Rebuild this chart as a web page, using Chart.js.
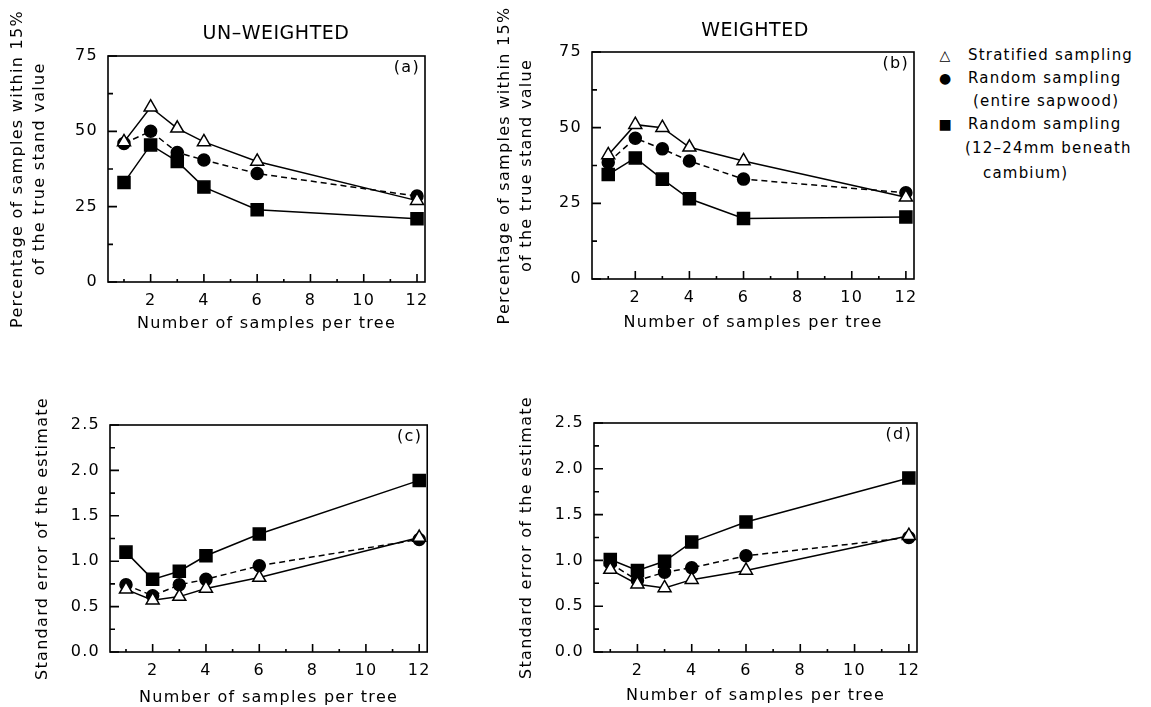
<!DOCTYPE html>
<html><head><meta charset="utf-8">
<script src="https://cdn.jsdelivr.net/npm/chart.js@4.4.1/dist/chart.umd.min.js"></script>
<style>
body{margin:0;background:#fff;width:1151px;height:707px;overflow:hidden;position:relative;font-family:"DejaVu Sans",sans-serif;color:#000}
.p{position:absolute}
.hdr{position:absolute;font-size:19px;letter-spacing:0.5px;transform:translate(-50%,-50%);white-space:nowrap}
.lg{position:absolute;font-size:15px;letter-spacing:1.2px;white-space:nowrap;line-height:20px;transform:translateY(-50%)}
.sym{position:absolute;font-size:14px;line-height:20px;transform:translate(-50%,-50%)}
</style></head><body>
<div class="p" id="pa" style="left:0;top:0;width:440px;height:340px"><canvas id="ca"></canvas></div>
<div class="p" id="pb" style="left:490px;top:0;width:440px;height:340px"><canvas id="cb"></canvas></div>
<div class="p" id="pc" style="left:0;top:360px;width:440px;height:347px"><canvas id="cc"></canvas></div>
<div class="p" id="pd" style="left:490px;top:360px;width:440px;height:347px"><canvas id="cd"></canvas></div>
<div class="hdr" style="left:276px;top:32px">UN–WEIGHTED</div>
<div class="hdr" style="left:755px;top:29px">WEIGHTED</div>
<div class="sym" style="left:945px;top:55px">△</div>
<div class="lg" style="left:968px;top:55px">Stratified sampling</div>
<div class="sym" style="left:945px;top:78px">●</div>
<div class="lg" style="left:968px;top:78px">Random sampling</div>
<div class="lg" style="left:973px;top:101px">(entire sapwood)</div>
<div class="sym" style="left:945px;top:124px">■</div>
<div class="lg" style="left:968px;top:124px">Random sampling</div>
<div class="lg" style="left:965px;top:148px">(12–24mm beneath</div>
<div class="lg" style="left:983px;top:173px">cambium)</div>
<script>
// ---- data ----
const samplesPerTree = [1, 2, 3, 4, 6, 12];
const seriesNames = ['Stratified sampling', 'Random sampling (entire sapwood)', 'Random sampling (12–24mm beneath cambium)'];

const unweightedPctStratified = [46.5, 58, 51, 46.5, 40, 27];
const unweightedPctRandomEntire = [46, 50, 43, 40.5, 36, 28.5];
const unweightedPctRandom1224 = [33, 45.5, 40, 31.5, 24, 21];

const weightedPctStratified = [41, 51, 50, 43.5, 39, 27];
const weightedPctRandomEntire = [38.5, 46.5, 43, 39, 33, 28.5];
const weightedPctRandom1224 = [34.5, 40, 33, 26.5, 20, 20.5];

const unweightedSeStratified = [0.69, 0.57, 0.61, 0.70, 0.82, 1.26];
const unweightedSeRandomEntire = [0.74, 0.62, 0.74, 0.80, 0.95, 1.24];
const unweightedSeRandom1224 = [1.10, 0.80, 0.89, 1.06, 1.30, 1.89];

const weightedSeStratified = [0.90, 0.74, 0.70, 0.79, 0.89, 1.27];
const weightedSeRandomEntire = [0.97, 0.78, 0.87, 0.92, 1.05, 1.25];
const weightedSeRandom1224 = [1.01, 0.89, 0.99, 1.20, 1.42, 1.90];

const xMajorTicks = [2, 4, 6, 8, 10, 12];
const xMinorTicks = [1, 3, 5, 7, 9, 11];
const pctMajorTicks = [0, 25, 50, 75];
const pctMinorTicks = [12.5, 37.5, 62.5];
const seMajorTicks = [0, 0.5, 1.0, 1.5, 2.0, 2.5];
const seMinorTicks = [0.25, 0.75, 1.25, 1.75, 2.25];

const xTitle = 'Number of samples per tree';
const pctTitle = ['Percentage of samples within 15%', 'of the true stand value'];
const seTitle = 'Standard error of the estimate';

// ---- drawing ----
const FONT = '"DejaVu Sans", sans-serif';
Chart.defaults.font.family = FONT;
Chart.defaults.color = '#000';

const SPACING = '1.3px';
const spacingPlugin = {
  id: 'spacing',
  beforeUpdate(c) { c.ctx.letterSpacing = SPACING; },
  beforeLayout(c) { c.ctx.letterSpacing = SPACING; },
  beforeDraw(c) { c.ctx.letterSpacing = SPACING; }
};

const framePlugin = {
  id: 'frame',
  afterDraw(chart, args, o) {
    const {ctx, chartArea: a, scales: {x, y}} = chart;
    ctx.save();
    ctx.strokeStyle = '#000';
    ctx.lineWidth = 1.6;
    ctx.strokeRect(a.left, a.top, a.right - a.left, a.bottom - a.top);
    ctx.beginPath();
    o.xMajor.forEach(v => { const px = x.getPixelForValue(v); ctx.moveTo(px, a.bottom); ctx.lineTo(px, a.bottom - 8); });
    o.xMinor.forEach(v => { const px = x.getPixelForValue(v); ctx.moveTo(px, a.bottom); ctx.lineTo(px, a.bottom - 3); });
    o.yMajor.forEach(v => { const py = y.getPixelForValue(v); ctx.moveTo(a.left, py); ctx.lineTo(a.left + 9, py); });
    o.yMinor.forEach(v => { const py = y.getPixelForValue(v); ctx.moveTo(a.left, py); ctx.lineTo(a.left + 5, py); });
    ctx.stroke();
    ctx.font = '16px ' + FONT;
    ctx.fillStyle = '#000';
    ctx.textAlign = 'right';
    ctx.textBaseline = 'middle';
    ctx.fillText(o.tag, a.right - 5, a.top + 12);
    ctx.restore();
  }
};

function ds(name, vals, style, dashed) {
  const open = style === 'triangle';
  return {
    label: name,
    data: samplesPerTree.map((v, i) => ({x: v, y: vals[i]})),
    borderColor: '#000', borderWidth: 1.5,
    borderDash: dashed ? [6, 4] : [],
    pointStyle: style,
    pointRadius: style === 'triangle' ? 7.5 : (style === 'rect' ? 8.5 : 6),
    pointBackgroundColor: open ? '#fff' : '#000',
    pointBorderColor: '#000', pointBorderWidth: 1.5,
    tension: 0, clip: false
  };
}

function panel(id, series, g) {
  new Chart(document.getElementById(id), {
    type: 'line',
    data: {datasets: [
      ds(seriesNames[0], series[0], 'triangle', false),
      ds(seriesNames[1], series[1], 'circle', true),
      ds(seriesNames[2], series[2], 'rect', false)
    ]},
    options: {
      responsive: true, maintainAspectRatio: false, animation: false,
      layout: {padding: {top: g.top, right: g.right, left: 0, bottom: 0}},
      plugins: {legend: {display: false}, tooltip: {enabled: false},
        frame: {xMajor: xMajorTicks, xMinor: xMinorTicks, yMajor: g.yMajor, yMinor: g.yMinor, tag: g.tag}},
      scales: {
        x: {
          type: 'linear', min: 0.4, max: 12.3,
          afterBuildTicks: s => { s.ticks = xMajorTicks.map(v => ({value: v})); },
          afterFit: s => { s.height = g.xh; },
          grid: {display: false, drawTicks: false}, border: {display: false},
          ticks: {padding: g.xtp, font: {size: 16}, color: '#000', maxRotation: 0, autoSkip: false},
          title: {display: true, text: xTitle, font: {size: 16}, color: '#000', padding: {top: 0, bottom: g.xtb}}
        },
        y: {
          type: 'linear', min: g.yMin, max: g.yMax,
          afterBuildTicks: s => { s.ticks = g.yMajor.map(v => ({value: v})); },
          afterFit: s => { s.width = g.yw; },
          grid: {display: false, drawTicks: false}, border: {display: false},
          ticks: {padding: 10, font: {size: 16}, color: '#000', autoSkip: false, callback: g.fmt},
          title: {display: true, text: g.yTitle, font: {size: 16, lineHeight: 1.35}, color: '#000', padding: {top: g.ytp, bottom: 0}}
        }
      }
    },
    plugins: [spacingPlugin, framePlugin]
  });
}

const pctFmt = v => String(v);
const seFmt = v => Number(v).toFixed(1);

panel('ca', [unweightedPctStratified, unweightedPctRandomEntire, unweightedPctRandom1224],
  {top: 56, right: 15, yw: 108, xh: 58, xtp: 9, xtb: 7, ytp: 7, yMin: 0, yMax: 75,
   yMajor: pctMajorTicks, yMinor: pctMinorTicks, yTitle: pctTitle, fmt: pctFmt, tag: '(a)'});
panel('cb', [weightedPctStratified, weightedPctRandomEntire, weightedPctRandom1224],
  {top: 52, right: 16, yw: 102, xh: 61, xtp: 9, xtb: 8, ytp: 4, yMin: 0, yMax: 75,
   yMajor: pctMajorTicks, yMinor: pctMinorTicks, yTitle: pctTitle, fmt: pctFmt, tag: '(b)'});
panel('cc', [unweightedSeStratified, unweightedSeRandomEntire, unweightedSeRandom1224],
  {top: 65, right: 12, yw: 110, xh: 55, xtp: 9, xtb: 0, ytp: 32, yMin: 0, yMax: 2.5,
   yMajor: seMajorTicks, yMinor: seMinorTicks, yTitle: seTitle, fmt: seFmt, tag: '(c)'});
panel('cd', [weightedSeStratified, weightedSeRandomEntire, weightedSeRandom1224],
  {top: 63, right: 13, yw: 104, xh: 55, xtp: 9, xtb: 2, ytp: 26, yMin: 0, yMax: 2.5,
   yMajor: seMajorTicks, yMinor: seMinorTicks, yTitle: seTitle, fmt: seFmt, tag: '(d)'});
</script>
</body></html>
